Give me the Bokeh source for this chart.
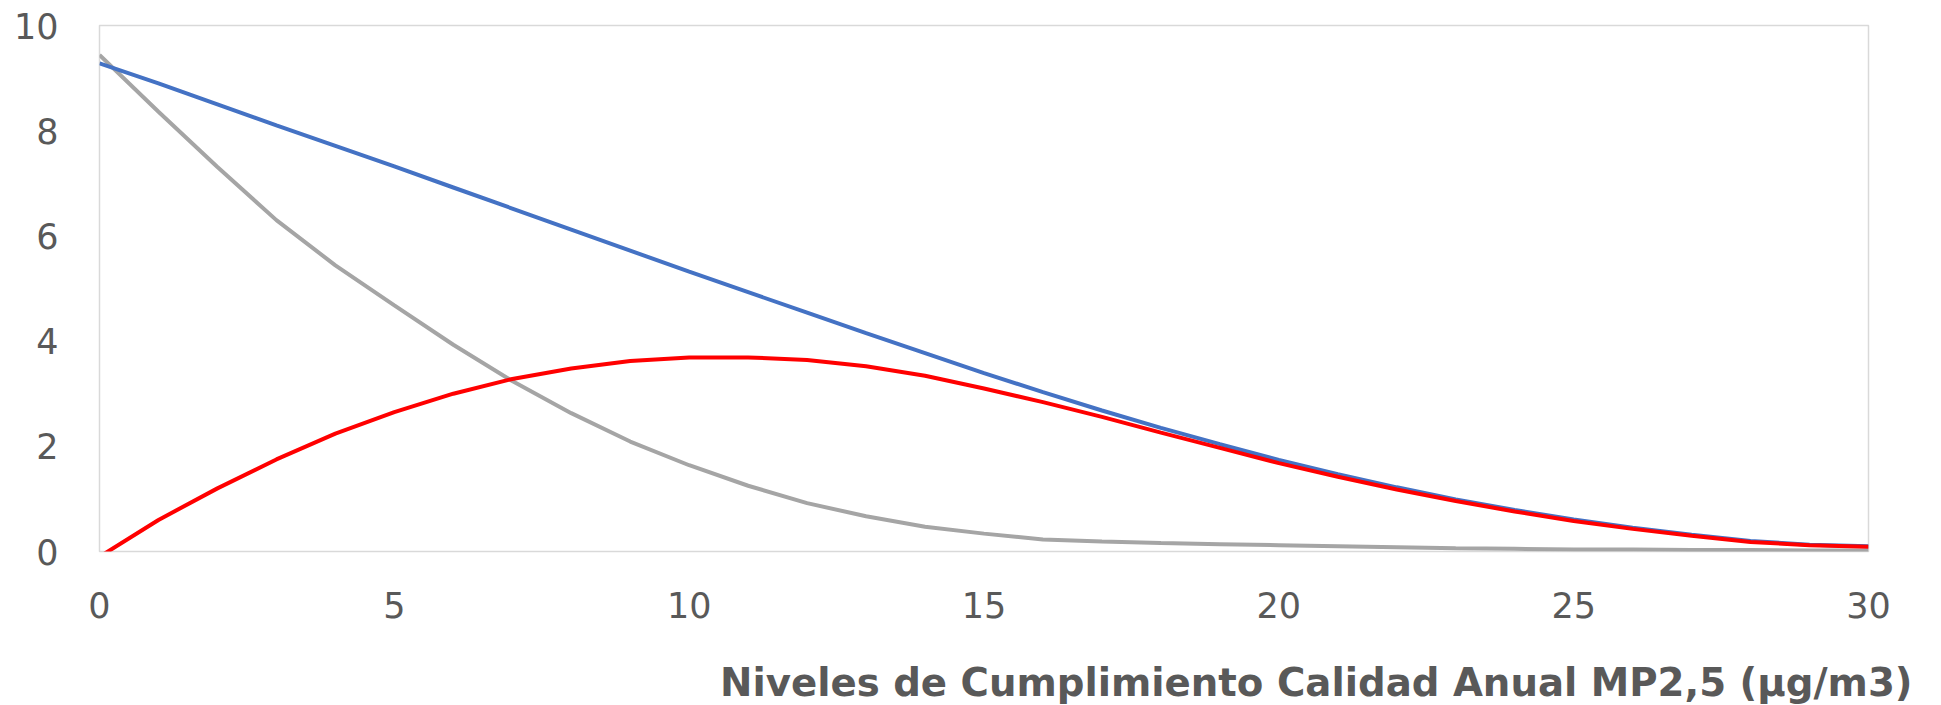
from bokeh.plotting import figure
from bokeh.models import Range1d, Title, FixedTicker
from bokeh.embed import file_html
from bokeh.resources import INLINE

x_values = list(range(0, 31))
serie_azul = [9.28, 8.90, 8.50, 8.10, 7.71, 7.32, 6.92, 6.52, 6.12, 5.72, 5.32,
              4.93, 4.54, 4.15, 3.77, 3.39, 3.03, 2.68, 2.35, 2.04, 1.74, 1.47,
              1.22, 0.99, 0.79, 0.61, 0.45, 0.32, 0.20, 0.13, 0.10]
serie_gris = [9.44, 8.36, 7.31, 6.30, 5.44, 4.68, 3.93, 3.24, 2.63, 2.09, 1.64,
              1.25, 0.92, 0.67, 0.47, 0.34, 0.23, 0.19, 0.16, 0.14, 0.12, 0.10,
              0.08, 0.06, 0.05, 0.04, 0.04, 0.03, 0.03, 0.02, 0.02]
serie_roja = [-0.10, 0.60, 1.20, 1.75, 2.24, 2.65, 3.00, 3.28, 3.48, 3.62, 3.69,
              3.69, 3.64, 3.52, 3.34, 3.10, 2.84, 2.56, 2.26, 1.97, 1.68, 1.42,
              1.18, 0.96, 0.76, 0.58, 0.43, 0.30, 0.18, 0.12, 0.09]
x_ticks = [0, 5, 10, 15, 20, 25, 30]
y_ticks = [0, 2, 4, 6, 8, 10]
titulo_x = "Niveles de Cumplimiento Calidad Anual MP2,5 (µg/m3)"

W, H = 1930, 705
p = figure(width=W, height=H, output_backend="svg", toolbar_location=None,
           x_range=Range1d(0, 30), y_range=Range1d(0, 10),
           min_border_left=99, min_border_top=25, min_border_right=W - 1868,
           min_border_bottom=H - 551)
p.background_fill_color = "white"
p.border_fill_color = "white"
p.outline_line_color = "#D9D9D9"
p.outline_line_width = 1.5
p.grid.visible = False

font = "DejaVu Sans"
for ax in (p.xaxis, p.yaxis):
    ax.axis_line_color = None
    ax.major_tick_line_color = None
    ax.minor_tick_line_color = None
    ax.major_label_text_font = font
    ax.major_label_text_font_size = "35px"
    ax.major_label_text_color = "#595959"
p.xaxis.ticker = FixedTicker(ticks=x_ticks)
p.yaxis.ticker = FixedTicker(ticks=y_ticks)
p.xaxis.major_label_standoff = 34
p.yaxis.major_label_standoff = 35
# blank spacer label: pushes the title panel down to the reference position
p.xaxis.axis_label = " "
p.xaxis.axis_label_text_font_size = "2px"
p.xaxis.axis_label_standoff = 31

p.line(x_values, serie_gris, line_color="#A5A5A5", line_width=4)
p.line(x_values, serie_azul, line_color="#4472C4", line_width=4)
p.line(x_values, serie_roja, line_color="#FF0000", line_width=4)

t = Title(text=titulo_x, align="right", offset=-44, standoff=2,
          vertical_align="bottom",
          text_font=font, text_font_style="bold", text_font_size="38.7px",
          text_color="#595959")
p.add_layout(t, "below")

open("out.html", "w").write(file_html(p, INLINE))
